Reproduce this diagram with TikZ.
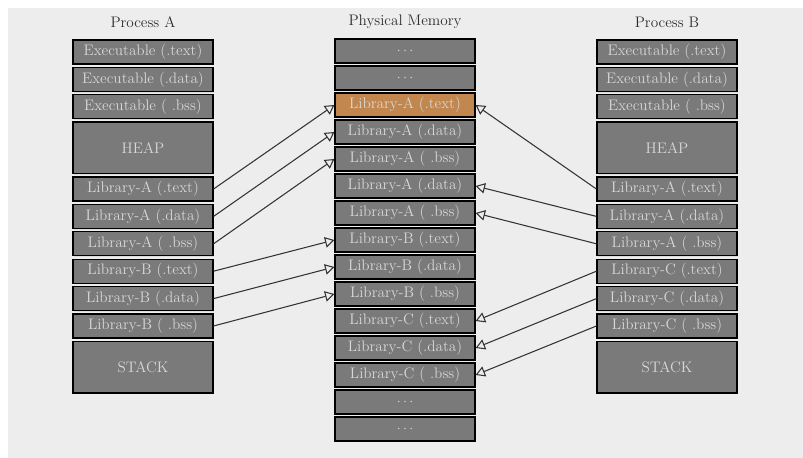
\documentclass[tikz,border=0pt]{standalone}
\usepackage{tikz}
\usetikzlibrary{arrows.meta,shadows}
\usepackage{xcolor}
\definecolor{boxgray}{HTML}{7A7A7A}
\definecolor{boxtext}{HTML}{D8D8D8}
\definecolor{sharedorange}{HTML}{C2874F}
\definecolor{bggray}{HTML}{EDEDED}
\definecolor{titlegray}{HTML}{2E2E2E}

\begin{document}
\begin{tikzpicture}[x=0.03cm, y=-0.03cm,
    segment/.style={draw=black, line width=1pt, fill=boxgray, text=boxtext,
        minimum width=4.2cm, minimum height=0.72cm, inner sep=0pt,
        font=\fontsize{13}{15}\selectfont,
        drop shadow={opacity=0.15, shadow xshift=1pt, shadow yshift=-1pt}},
    bigsegment/.style={segment, minimum height=1.55cm},
    shared/.style={segment, fill=sharedorange},
    title/.style={text=titlegray, font=\fontsize{13}{15}\selectfont},
    map/.style={-{Triangle[open, length=8pt, width=9pt]}, line width=0.9pt, draw=black!80}]

    % Canvas
    \fill[white] (0,0) rectangle (803,458);
    \fill[bggray] (8,8) rectangle (803,458);
    \useasboundingbox (0,0) rectangle (803,458);

    % Titles
    \node[title] (titlea) at (143,22) {Process A};
    \node[title] (titlem) at (405,22) {Physical Memory};
    \node[title] (titleb) at (667,22) {Process B};

    % Process A
    \node[segment] (aexetext) at (143,52) {Executable (.text)};
    \node[segment] (aexedata) at (143,79.4) {Executable (.data)};
    \node[segment] (aexebss) at (143,106.8) {Executable ( .bss)};
    \node[bigsegment] (aheap) at (143,147.9) {HEAP};
    \node[segment] (alibatext) at (143,189) {Library-A (.text)};
    \node[segment] (alibadata) at (143,216.4) {Library-A (.data)};
    \node[segment] (alibabss) at (143,243.8) {Library-A ( .bss)};
    \node[segment] (alibbtext) at (143,271.2) {Library-B (.text)};
    \node[segment] (alibbdata) at (143,298.6) {Library-B (.data)};
    \node[segment] (alibbbss) at (143,326) {Library-B ( .bss)};
    \node[bigsegment] (astack) at (143,367.1) {STACK};

    % Physical memory
    \node[segment] (mtop1) at (405,51) {$\cdots$};
    \node[segment] (mtop2) at (405,78) {$\cdots$};
    \node[shared] (mlibatext) at (405,105) {Library-A (.text)};
    \node[segment] (mlibadata) at (405,132) {Library-A (.data)};
    \node[segment] (mlibabss) at (405,159) {Library-A ( .bss)};
    \node[segment] (mlibadatab) at (405,186) {Library-A (.data)};
    \node[segment] (mlibabssb) at (405,213) {Library-A ( .bss)};
    \node[segment] (mlibbtext) at (405,240) {Library-B (.text)};
    \node[segment] (mlibbdata) at (405,267) {Library-B (.data)};
    \node[segment] (mlibbbss) at (405,294) {Library-B ( .bss)};
    \node[segment] (mlibctext) at (405,321) {Library-C (.text)};
    \node[segment] (mlibcdata) at (405,348) {Library-C (.data)};
    \node[segment] (mlibcbss) at (405,375) {Library-C ( .bss)};
    \node[segment] (mbot1) at (405,402) {$\cdots$};
    \node[segment] (mbot2) at (405,429) {$\cdots$};

    % Process B
    \node[segment] (bexetext) at (667,52) {Executable (.text)};
    \node[segment] (bexedata) at (667,79.4) {Executable (.data)};
    \node[segment] (bexebss) at (667,106.8) {Executable ( .bss)};
    \node[bigsegment] (bheap) at (667,147.9) {HEAP};
    \node[segment] (blibatext) at (667,189) {Library-A (.text)};
    \node[segment] (blibadata) at (667,216.4) {Library-A (.data)};
    \node[segment] (blibabss) at (667,243.8) {Library-A ( .bss)};
    \node[segment] (blibctext) at (667,271.2) {Library-C (.text)};
    \node[segment] (blibcdata) at (667,298.6) {Library-C (.data)};
    \node[segment] (blibcbss) at (667,326) {Library-C ( .bss)};
    \node[bigsegment] (bstack) at (667,367.1) {STACK};

    % Mappings of process A
    \draw[map] (alibatext.east) -- (mlibatext.west);
    \draw[map] (alibadata.east) -- (mlibadata.west);
    \draw[map] (alibabss.east) -- (mlibabss.west);
    \draw[map] (alibbtext.east) -- (mlibbtext.west);
    \draw[map] (alibbdata.east) -- (mlibbdata.west);
    \draw[map] (alibbbss.east) -- (mlibbbss.west);

    % Mappings of process B
    \draw[map] (blibatext.west) -- (mlibatext.east);
    \draw[map] (blibadata.west) -- (mlibadatab.east);
    \draw[map] (blibabss.west) -- (mlibabssb.east);
    \draw[map] (blibctext.west) -- (mlibctext.east);
    \draw[map] (blibcdata.west) -- (mlibcdata.east);
    \draw[map] (blibcbss.west) -- (mlibcbss.east);
\end{tikzpicture}
\end{document}
